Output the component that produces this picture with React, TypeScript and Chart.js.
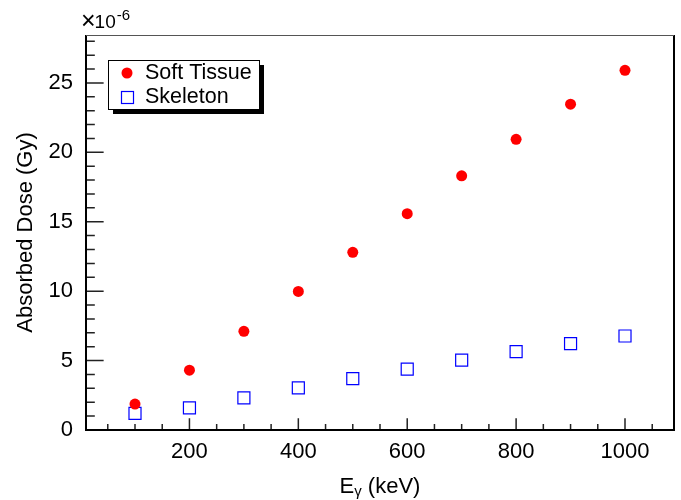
import React, { useEffect, useRef } from "react";
import { Chart, registerables } from "chart.js";

Chart.register(...registerables);

// Photon energy (keV)
const energies = [100, 200, 300, 400, 500, 600, 700, 800, 900, 1000];
// Absorbed dose in units of 1e-6 Gy
const softTissue = [1.87, 4.31, 7.11, 9.98, 12.8, 15.58, 18.31, 20.94, 23.47, 25.91];
const skeleton = [1.2, 1.6, 2.32, 3.04, 3.7, 4.38, 5.03, 5.65, 6.22, 6.77];

const seriesLabels = ["Soft Tissue", "Skeleton"];
const xTickValues = [200, 400, 600, 800, 1000];
const yTickValues = [0, 5, 10, 15, 20, 25];
const xMinorValues = [50, 100, 150, 200, 250, 300, 350, 400, 450, 500, 550, 600, 650, 700, 750, 800, 850, 900, 950, 1000, 1050];
const yMinorValues = Array.from({ length: 29 }, (_, i) => i);

const FONT = "'Liberation Sans', Arial, Helvetica, sans-serif";

const framePlugin = {
  id: "rootFrame",
  afterDraw(chart: any) {
    const { ctx, chartArea } = chart;
    const { left, right, top, bottom } = chartArea;
    const xs = chart.scales.x;
    const ys = chart.scales.y;
    ctx.save();
    // ticks
    ctx.strokeStyle = "#222";
    ctx.lineWidth = 1.5;
    const w = right - left;
    const h = bottom - top;
    ctx.beginPath();
    for (const v of xMinorValues) {
      const px = xs.getPixelForValue(v);
      const major = xTickValues.includes(v);
      const len = major ? 0.03 * h : 0.015 * h;
      ctx.moveTo(px, bottom);
      ctx.lineTo(px, bottom - len);
    }
    for (const v of yMinorValues) {
      const py = ys.getPixelForValue(v);
      if (py < top) continue;
      const major = yTickValues.includes(v);
      const len = major ? 0.03 * w : 0.015 * w;
      ctx.moveTo(left, py);
      ctx.lineTo(left + len, py);
    }
    ctx.stroke();
    // frame
    ctx.strokeStyle = "#000";
    ctx.lineWidth = 2;
    ctx.beginPath();
    ctx.moveTo(left, top);
    ctx.lineTo(left, bottom);
    ctx.lineTo(right, bottom);
    ctx.lineTo(right, top);
    ctx.stroke();
    ctx.strokeStyle = "#555";
    ctx.lineWidth = 1;
    ctx.beginPath();
    ctx.moveTo(left, top + 0.5);
    ctx.lineTo(right, top + 0.5);
    ctx.stroke();

    // exponent label
    ctx.fillStyle = "#000";
    ctx.textBaseline = "alphabetic";
    ctx.textAlign = "left";
    ctx.font = `25px ${FONT}`;
    ctx.fillText("\u00d7", 81, 29);
    const wx = ctx.measureText("\u00d7").width;
    ctx.font = `19px ${FONT}`;
    ctx.fillText("10", 81 + wx - 1, 28);
    const w10 = ctx.measureText("10").width;
    ctx.font = `15px ${FONT}`;
    ctx.fillText("-6", 81 + wx - 1 + w10 + 1, 20);

    // x title with subscript
    ctx.font = `22px ${FONT}`;
    const t1 = "E";
    const t2 = "\u03b3";
    const t3 = " (keV)";
    const w1 = ctx.measureText(t1).width;
    const w3 = ctx.measureText(t3).width;
    ctx.font = `15px ${FONT}`;
    const w2 = ctx.measureText(t2).width;
    const total = w1 + w2 + w3;
    const cx = (left + right) / 2;
    const x0 = cx - total / 2;
    const base = 493;
    ctx.font = `22px ${FONT}`;
    ctx.fillText(t1, x0, base);
    ctx.font = `15px ${FONT}`;
    ctx.fillText(t2, x0 + w1, base + 3);
    ctx.font = `22px ${FONT}`;
    ctx.fillText(t3, x0 + w1 + w2, base);

    // legend
    const lx = 108, ly = 60, lw = 151, lh = 49;
    ctx.fillStyle = "#000";
    ctx.fillRect(lx + 5, ly + 5, lw, lh);
    ctx.fillStyle = "#fff";
    ctx.fillRect(lx, ly, lw, lh);
    ctx.strokeStyle = "#000";
    ctx.lineWidth = 1;
    ctx.strokeRect(lx + 0.5, ly + 0.5, lw, lh);
    ctx.fillStyle = "#ff0000";
    ctx.beginPath();
    ctx.arc(127, 73, 5.5, 0, Math.PI * 2);
    ctx.fill();
    ctx.strokeStyle = "#0000ff";
    ctx.lineWidth = 1.2;
    ctx.strokeRect(121.5, 91.5, 12, 12);
    ctx.fillStyle = "#000";
    ctx.font = `21.5px ${FONT}`;
    ctx.fillText(seriesLabels[0], 145, 78.5);
    ctx.fillText(seriesLabels[1], 145, 103);
    ctx.restore();
  },
};

export default function App() {
  const ref = useRef<HTMLCanvasElement | null>(null);
  useEffect(() => {
    document.body.style.margin = "0";
    const canvas = ref.current;
    if (!canvas) return;
    const chart = new Chart(canvas, {
      type: "scatter",
      data: {
        datasets: [
          {
            label: seriesLabels[0],
            data: energies.map((e, i) => ({ x: e, y: softTissue[i] })),
            pointStyle: "circle",
            pointRadius: 5.5,
            pointBackgroundColor: "#ff0000",
            pointBorderWidth: 0,
            pointBorderColor: "#ff0000",
          },
          {
            label: seriesLabels[1],
            data: energies.map((e, i) => ({ x: e, y: skeleton[i] })),
            pointStyle: "rect",
            pointRadius: 8.5,
            pointBackgroundColor: "rgba(0,0,0,0)",
            pointBorderColor: "#0000ff",
            pointBorderWidth: 1.2,
          },
        ],
      },
      options: {
        animation: false,
        responsive: false,
        devicePixelRatio: 1,
        layout: { autoPadding: false, padding: { top: 35, right: 7, left: 0, bottom: 0 } },
        plugins: {
          legend: { display: false },
          tooltip: { enabled: false },
        },
        scales: {
          x: {
            type: "linear",
            min: 10,
            max: 1090,
            grid: { display: false, drawTicks: false },
            border: { display: false },
            afterBuildTicks: (scale: any) => {
              scale.ticks = xTickValues.map((v) => ({ value: v }));
            },
            afterFit: (scale: any) => {
              scale.height = 70;
              scale.paddingLeft = 0;
              scale.paddingRight = 0;
            },
            ticks: {
              padding: 9,
              color: "#000",
              font: { family: FONT, size: 22 },
              maxRotation: 0,
              autoSkip: false,
              callback: (v: any) => String(v),
            },
          },
          y: {
            type: "linear",
            min: 0,
            max: 28.45,
            grid: { display: false, drawTicks: false },
            border: { display: false },
            afterBuildTicks: (scale: any) => {
              scale.ticks = yTickValues.map((v) => ({ value: v }));
            },
            afterFit: (scale: any) => {
              scale.width = 86;
              scale.paddingTop = 0;
              scale.paddingBottom = 0;
            },
            title: {
              display: true,
              text: "Absorbed Dose (Gy)",
              color: "#000",
              font: { family: FONT, size: 22 },
              padding: { top: 13, bottom: 0 },
            },
            ticks: {
              padding: 13,
              color: "#000",
              font: { family: FONT, size: 22 },
              autoSkip: false,
              callback: (v: any) => String(v),
            },
          },
        },
      },
      plugins: [framePlugin],
    });
    return () => chart.destroy();
  }, []);
  return (
    <div style={{ position: "absolute", left: 0, top: 0, width: 681, height: 500, background: "#fff" }}>
      <canvas ref={ref} width={681} height={500} style={{ display: "block", width: 681, height: 500 }} />
    </div>
  );
}
